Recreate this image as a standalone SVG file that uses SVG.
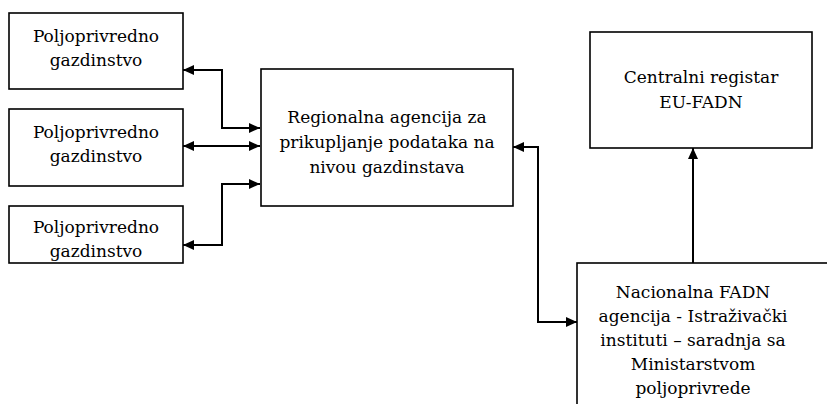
<svg xmlns="http://www.w3.org/2000/svg" width="827" height="404" viewBox="0 0 827 404">
<style>
.box{fill:#fff;stroke:#000;stroke-width:1.6}
.t{font-family:"DejaVu Serif",serif;font-size:17px;fill:#000;text-anchor:middle}
.c{fill:none;stroke:#000;stroke-width:2}
</style>
<defs>
<marker id="ah" viewBox="0 0 11 10" refX="11" refY="5" markerWidth="11" markerHeight="10" markerUnits="userSpaceOnUse" orient="auto-start-reverse">
<path d="M0,0 L11,5 L0,10 z" fill="#000"/>
</marker>
</defs>
<rect width="827" height="404" fill="#fff"/>
<g id="farm1"><rect class="box" x="9" y="13" width="174" height="76"/><text class="t" x="96" y="42">Poljoprivredno</text><text class="t" x="96" y="66">gazdinstvo</text></g>
<g id="farm2"><rect class="box" x="9" y="109" width="174" height="77"/><text class="t" x="96" y="138">Poljoprivredno</text><text class="t" x="96" y="162">gazdinstvo</text></g>
<g id="farm3"><rect class="box" x="9" y="206" width="174" height="57"/><text class="t" x="96" y="233">Poljoprivredno</text><text class="t" x="96" y="257">gazdinstvo</text></g>
<g id="regional"><rect class="box" x="261" y="69" width="252" height="137"/><text class="t" x="387" y="123">Regionalna agencija za</text><text class="t" x="387" y="148">prikupljanje podataka na</text><text class="t" x="387" y="173">nivou gazdinstava</text></g>
<g id="central"><rect class="box" x="590" y="32" width="222" height="116"/><text class="t" x="701" y="83">Centralni registar</text><text class="t" x="701" y="108">EU-FADN</text></g>
<g id="national"><rect class="box" x="577" y="263" width="260" height="160"/><text class="t" x="693" y="298">Nacionalna FADN</text><text class="t" x="693" y="322">agencija - Istraživački</text><text class="t" x="693" y="346">instituti – saradnja sa</text><text class="t" x="693" y="370">Ministarstvom</text><text class="t" x="693" y="394">poljoprivrede</text></g>
<g id="connectors">
<path class="c" d="M183,70 H222 V128 H260" marker-start="url(#ah)" marker-end="url(#ah)"/>
<path class="c" d="M183,146 H260" marker-start="url(#ah)" marker-end="url(#ah)"/>
<path class="c" d="M183,245 H222 V184 H260" marker-start="url(#ah)" marker-end="url(#ah)"/>
<path class="c" d="M513,147 H538 V322 H577" marker-start="url(#ah)" marker-end="url(#ah)"/>
<path class="c" d="M693,263 V148" marker-end="url(#ah)"/>
</g>
</svg>
